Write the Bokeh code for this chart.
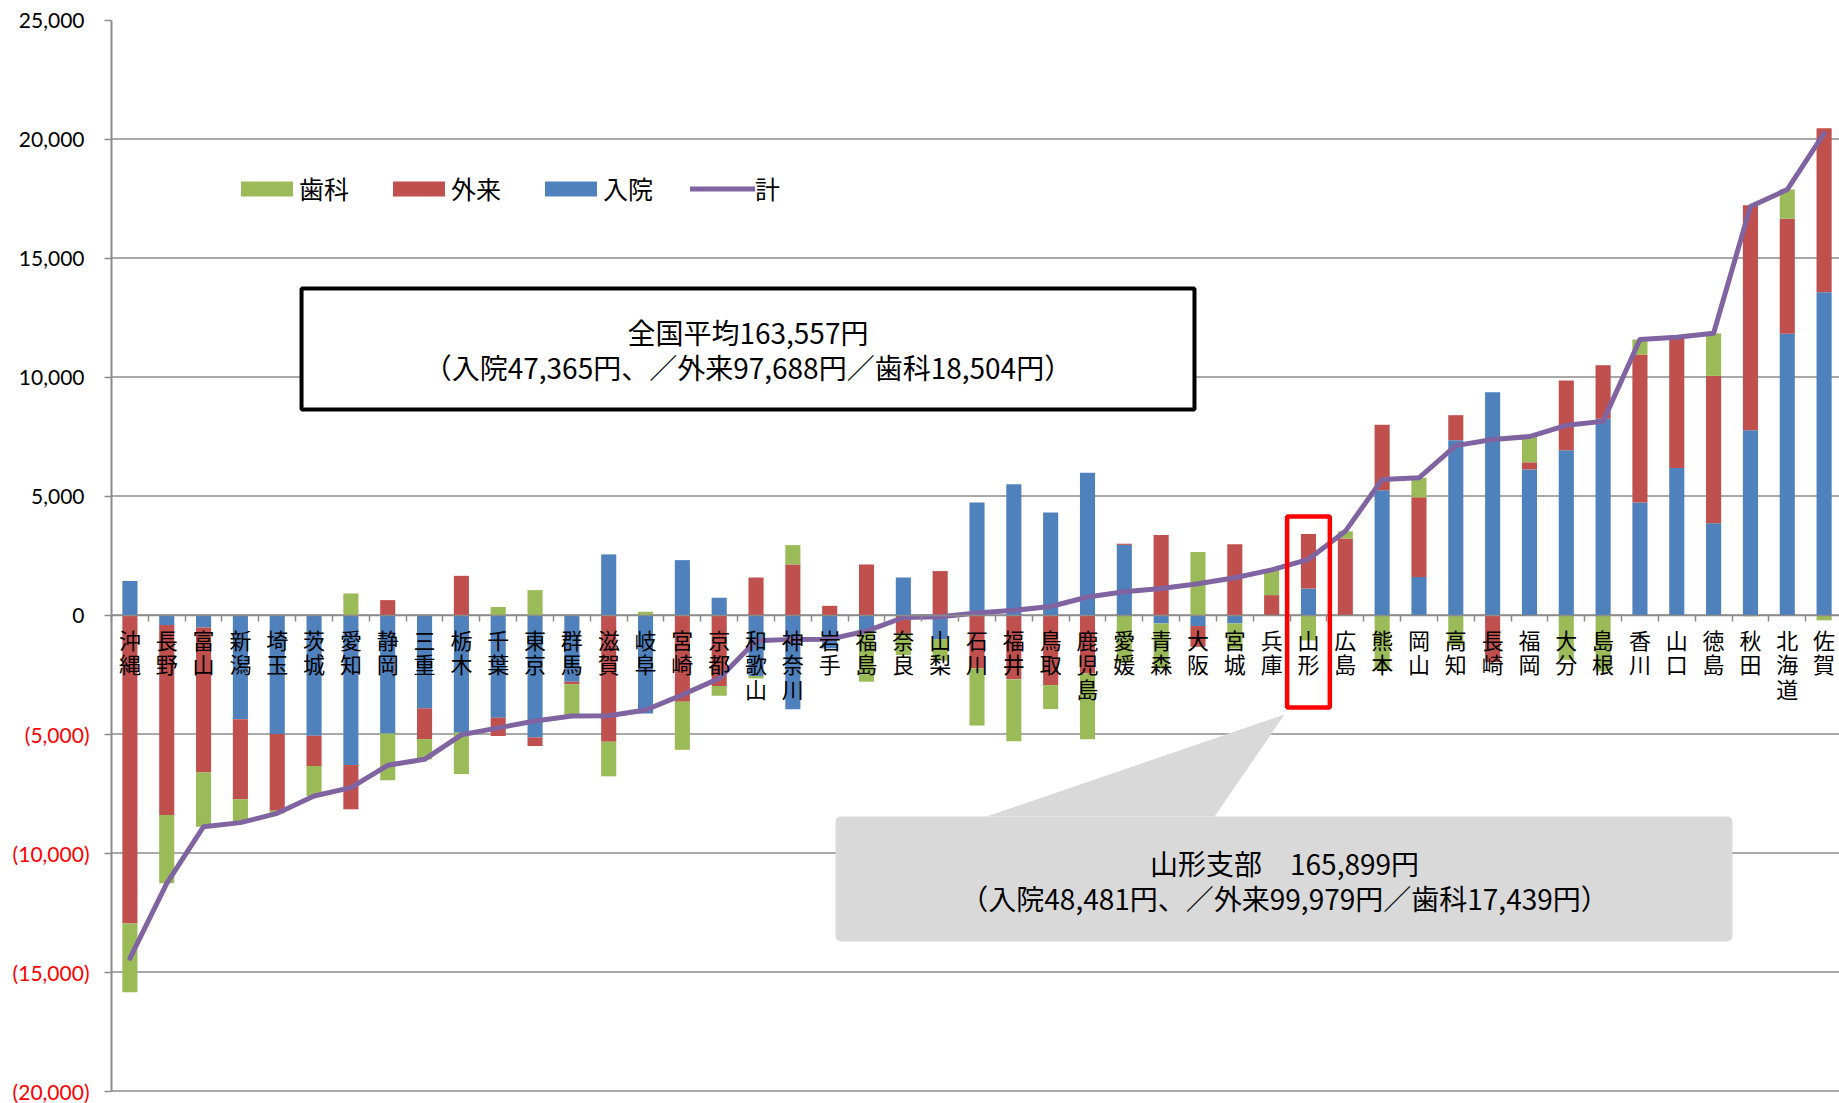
import numpy as np
from bokeh.plotting import figure
from bokeh.models import (Range1d, FixedTicker, LinearAxis, Legend, LegendItem, Label,
                          BoxAnnotation, PolyAnnotation)
from bokeh.core.properties import value
from bokeh.embed import file_html
from bokeh.resources import INLINE

# ---------------- data (difference from national average, yen) ----------------
prefectures = ["沖縄", "長野", "富山", "新潟", "埼玉", "茨城", "愛知", "静岡", "三重", "栃木",
               "千葉", "東京", "群馬", "滋賀", "岐阜", "宮崎", "京都", "和歌山", "神奈川", "岩手",
               "福島", "奈良", "山梨", "石川", "福井", "鳥取", "鹿児島", "愛媛", "青森", "大阪",
               "宮城", "兵庫", "山形", "広島", "熊本", "岡山", "高知", "長崎", "福岡", "大分",
               "島根", "香川", "山口", "徳島", "秋田", "北海道", "佐賀"]
inpatient = [1430, -420, -520, -4380, -5000, -5070, -6300, -4980, -3920, -4940,
             -4310, -5140, -2800, 2550, -4130, 2310, 730, -2560, -3960, -1400,
             -700, 1580, -1010, 4730, 5500, 4310, 5980, 2950, -350, -460,
             -350, 0, 1116, 0, 5250, 1600, 7350, 9360, 6120, 6930,
             8250, 4730, 6180, 3860, 7770, 11820, 13560]
outpatient = [-12960, -7980, -6090, -3360, -3220, -1270, -1860, 630, -1290, 1650,
              -770, -360, -100, -5320, 0, -3640, -2980, 1580, 2130, 390,
              2130, -770, 1850, -2240, -2700, -2940, -2450, 50, 3370, -870,
              2980, 840, 2291, 3220, 2750, 3350, 1050, -1980, 300, 2925,
              2250, 6220, 5520, 6190, 9450, 4830, 6900]
dental = [-2890, -2870, -2280, -980, -110, -1260, 910, -1960, -850, -1740,
          340, 1050, -1340, -1455, 140, -2020, -410, -100, 810, 0,
          -2100, -910, -910, -2400, -2600, -1010, -2770, -2020, -1900, 2650,
          -1060, 1060, -1065, 300, -2300, 820, -1280, 0, 1080, -1880,
          -2360, 630, -30, 1790, -50, 1230, -220]
total = [-14420, -11270, -8890, -8720, -8330, -7600, -7250, -6310, -6060, -5030,
         -4740, -4450, -4240, -4225, -3990, -3350, -2660, -1080, -1020, -1010,
         -670, -100, -70, 90, 200, 360, 760, 980, 1120, 1320,
         1570, 1900, 2342, 3520, 5700, 5770, 7120, 7380, 7500, 7975,
         8140, 11580, 11670, 11840, 17170, 17880, 20240]
y_ticks = [-20000, -15000, -10000, -5000, 0, 5000, 10000, 15000, 20000, 25000]
highlight = "山形"

series = [("入院", inpatient, "#4F81BD"), ("外来", outpatient, "#C0504D"), ("歯科", dental, "#9BBB59")]
LINE_COLOR = "#8064A2"
GRID = "#8C8C8C"
JP = "Noto Sans CJK JP"

n = len(prefectures)
x = np.arange(n)

W, H = 1839, 1103
PITCH = 36.83          # pixels per category
LEFT_PAD = 111         # pixels reserved for the value axis labels (inside the frame)
TOP_PAD = 19.6         # pixels above the top tick
AXIS_PX = 1071         # pixels from bottom tick to top tick
UPP = (y_ticks[-1] - y_ticks[0]) / AXIS_PX
x0 = -0.5 - LEFT_PAD / PITCH
xr = Range1d(x0, x0 + W / PITCH)
y_top = y_ticks[-1] + TOP_PAD * UPP
yr = Range1d(y_top - H * UPP, y_top)
p = figure(width=W, height=H, output_backend="svg", toolbar_location=None, tools="",
           x_range=xr, y_range=yr, x_axis_location=None, y_axis_location=None,
           min_border_left=0, min_border_right=0, min_border_top=0, min_border_bottom=0)
p.outline_line_color = None
p.background_fill_color = "white"
p.xgrid.visible = False
p.ygrid.visible = False

# horizontal grid lines, starting at the value axis
grid_ticks = y_ticks[:-1]
p.segment(x0=[-0.5] * len(grid_ticks), x1=[xr.end] * len(grid_ticks), y0=grid_ticks, y1=grid_ticks,
          line_color=GRID, line_width=1.5)

# y axes: positive labels in black, negative labels in red (parentheses)
pos_ticks = [t for t in y_ticks if t >= 0]
neg_ticks = [t for t in y_ticks if t < 0]
ax_pos = LinearAxis(fixed_location=-0.5, bounds=(y_ticks[0], y_ticks[-1]),
                    ticker=FixedTicker(ticks=pos_ticks),
                    major_label_overrides={t: f"{t:,}" for t in pos_ticks},
                    major_label_text_font="Lato", major_label_text_font_size="21px",
                    major_label_text_color="#000000", major_label_standoff=20,
                    axis_line_color=GRID, axis_line_width=2,
                    major_tick_line_color=GRID, major_tick_line_width=1.5,
                    major_tick_out=7, major_tick_in=0, minor_tick_line_color=None)
ax_neg = LinearAxis(fixed_location=-0.5, bounds=(y_ticks[0], y_ticks[-1]),
                    ticker=FixedTicker(ticks=neg_ticks),
                    major_label_overrides={t: f"({-t:,})" for t in neg_ticks},
                    major_label_text_font="Lato", major_label_text_font_size="21px",
                    major_label_text_color="#FF0000", major_label_standoff=15,
                    axis_line_color=None,
                    major_tick_line_color=GRID, major_tick_line_width=1.5,
                    major_tick_out=7, major_tick_in=0, minor_tick_line_color=None)
p.add_layout(ax_pos, "left")
p.add_layout(ax_neg, "left")

# category boundary ticks on the zero line
xb = LinearAxis(fixed_location=0, bounds=(-0.5, xr.end),
                ticker=FixedTicker(ticks=[], minor_ticks=[i - 0.5 for i in range(n + 1)]),
                major_tick_line_color=None, minor_tick_in=0, minor_tick_out=6,
                minor_tick_line_color=GRID, minor_tick_line_width=1.5,
                axis_line_color=GRID, axis_line_width=1.5)
p.add_layout(xb, "below")

# stacked bars with positive / negative stacks
pos = np.zeros(n)
neg = np.zeros(n)
rend = {}
for name, vals, col in series:
    v = np.array(vals, dtype=float)
    bottom = np.where(v >= 0, pos, neg + v)
    top = np.where(v >= 0, pos + v, neg)
    pos = pos + np.where(v >= 0, v, 0)
    neg = neg + np.where(v < 0, v, 0)
    rend[name] = p.vbar(x=x, width=0.41, bottom=bottom, top=top, fill_color=col, line_color=None)

lr = p.line(x, total, line_color=LINE_COLOR, line_width=5, line_join="round", line_cap="round")

# category labels (vertical)
p.text(x=x, y=np.zeros(n), text=["\n".join(s) for s in prefectures],
       text_font=value(JP), text_font_size="22px", text_align="center", text_baseline="top",
       y_offset=8, text_line_height=0.76, text_color="#000000")

# legend
legend = Legend(items=[LegendItem(label="歯科", renderers=[rend["歯科"]]),
                       LegendItem(label="外来", renderers=[rend["外来"]]),
                       LegendItem(label="入院", renderers=[rend["入院"]]),
                       LegendItem(label="計", renderers=[lr])],
                location=(LEFT_PAD + 123, 885 + (H - 1100) + 9 - 20 + 20 - 9 + 9),
                orientation="horizontal", glyph_width=65,
                glyph_height=19, label_standoff=0, spacing=37, padding=0, margin=0,
                border_line_color=None, background_fill_alpha=0, label_text_font=JP,
                label_text_font_size="25px", label_text_color="#000000")
p.add_layout(legend)

# national average box
p.add_layout(BoxAnnotation(left=4.66, right=28.905, top=13721, bottom=8637, fill_color="white",
                           fill_alpha=1, line_color="black", line_alpha=1, line_width=4))
p.add_layout(Label(x=16.78, y=11878, text="全国平均163,557円", text_align="center",
                   text_baseline="middle", text_font=JP, text_font_size="28px", text_color="#000000"))
p.add_layout(Label(x=16.78, y=10408, text="（入院47,365円、／外来97,688円／歯科18,504円）",
                   text_align="center", text_baseline="middle", text_font=JP,
                   text_font_size="28px", text_color="#000000"))

# highlight + callout
hi = prefectures.index(highlight)
p.add_layout(BoxAnnotation(left=hi - 0.58, right=hi + 0.58, top=4142, bottom=-3882,
                           fill_alpha=0, line_color="#FF0000", line_alpha=1, line_width=4.5))
p.add_layout(PolyAnnotation(xs=[23.26, 29.45, hi - 0.65], ys=[-8462, -8462, -4179],
                            fill_color="#D9D9D9", fill_alpha=1, line_color=None))
p.add_layout(BoxAnnotation(left=19.16, right=43.51, top=-8462, bottom=-13714, fill_color="#D9D9D9",
                           fill_alpha=1, line_color=None, border_radius=5))
p.add_layout(Label(x=31.35, y=-10429, text="山形支部　165,899円", text_align="center",
                   text_baseline="middle", text_font=JP, text_font_size="28px", text_color="#000000"))
p.add_layout(Label(x=31.35, y=-11900, text="（入院48,481円、／外来99,979円／歯科17,439円）",
                   text_align="center", text_baseline="middle", text_font=JP,
                   text_font_size="28px", text_color="#000000"))

open("out.html", "w").write(file_html(p, INLINE))
